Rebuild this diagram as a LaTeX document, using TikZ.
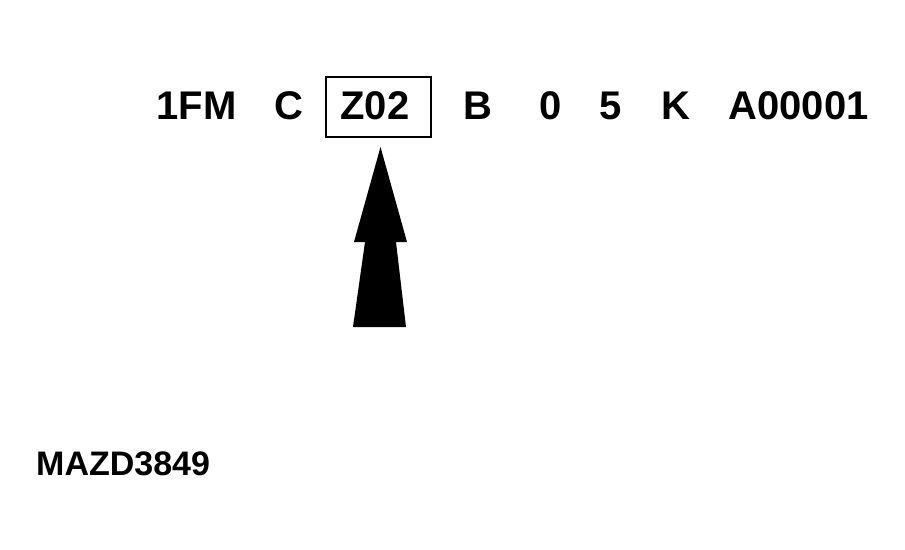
\documentclass[tikz,border=0pt]{standalone}
\usepackage{fontspec}
\setmainfont{Liberation Sans}
\begin{document}
\begin{tikzpicture}[x=1pt,y=-1pt,
  code/.style={font=\fontsize{40}{40}\selectfont\bfseries, inner sep=0pt, anchor=base},
  tag/.style={font=\fontsize{34}{34}\selectfont\bfseries, inner sep=0pt, anchor=base west}]
\useasboundingbox (0,0) rectangle (905,549);
\node[code] (p1) at (196.5,119) {1FM};
\node[code] (p2) at (289,119) {C};
\node[code] (p3) at (375,119) {Z02};
\node[code] (p4) at (478,119) {B};
\node[code] (p5) at (551,119) {0};
\node[code] (p6) at (611,119) {5};
\node[code] (p7) at (675.5,119) {K};
\node[code] (p8) at (798.5,119) {A00001};
\draw[line width=2.3pt] (326,77) rectangle (431,137);
\fill[black] (380.5,147) -- (354,242) -- (365,242) -- (353,327) -- (406,327) -- (396,242) -- (407,242) -- cycle;
\node[tag] (ref) at (36,475) {MAZD3849};
\end{tikzpicture}
\end{document}
